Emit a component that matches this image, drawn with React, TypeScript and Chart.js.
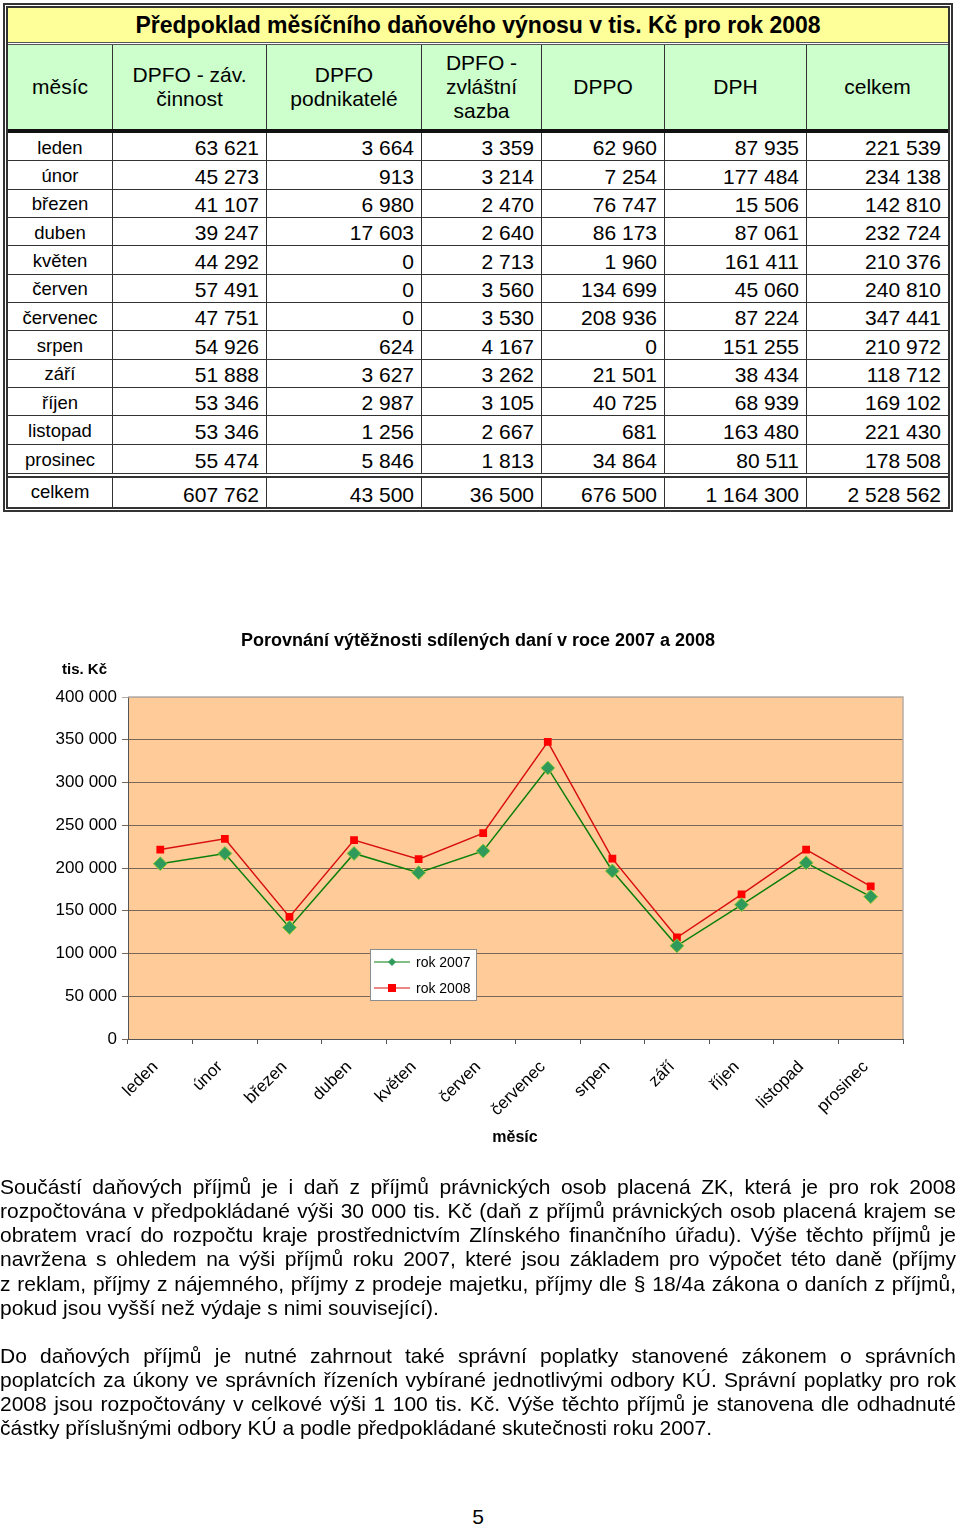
import React, { useEffect, useRef } from "react";
import { Chart, registerables } from "chart.js";

Chart.register(...registerables);

const FONT = "'Liberation Sans', Arial, Helvetica, sans-serif";

// ---------- table data ----------
const tableTitle = "Předpoklad měsíčního daňového výnosu v tis. Kč pro rok 2008";
const headerLabels = [
  ["měsíc"],
  ["DPFO - záv.", "činnost"],
  ["DPFO", "podnikatelé"],
  ["DPFO -", "zvláštní", "sazba"],
  ["DPPO"],
  ["DPH"],
  ["celkem"],
];
const months = ["leden", "únor", "březen", "duben", "květen", "červen", "červenec", "srpen", "září", "říjen", "listopad", "prosinec"];
const dpfoZavislaCinnost = [63621, 45273, 41107, 39247, 44292, 57491, 47751, 54926, 51888, 53346, 53346, 55474];
const dpfoPodnikatele = [3664, 913, 6980, 17603, 0, 0, 0, 624, 3627, 2987, 1256, 5846];
const dpfoZvlastniSazba = [3359, 3214, 2470, 2640, 2713, 3560, 3530, 4167, 3262, 3105, 2667, 1813];
const dppo = [62960, 7254, 76747, 86173, 1960, 134699, 208936, 0, 21501, 40725, 681, 34864];
const dph = [87935, 177484, 15506, 87061, 161411, 45060, 87224, 151255, 38434, 68939, 163480, 80511];
const celkem = [221539, 234138, 142810, 232724, 210376, 240810, 347441, 210972, 118712, 169102, 221430, 178508];
const totalLabel = "celkem";
const totals = [607762, 43500, 36500, 676500, 1164300, 2528562];

// ---------- chart data ----------
const chartTitle = "Porovnání výtěžnosti sdílených daní v roce 2007 a 2008";
const yAxisUnit = "tis. Kč";
const xAxisTitle = "měsíc";
const seriesNames = ["rok 2007", "rok 2008"];
const rok2007 = [205000, 217000, 130500, 217000, 194500, 220000, 317000, 196500, 109000, 157000, 206000, 166500];
const rok2008 = [221539, 234138, 142810, 232724, 210376, 240810, 347441, 210972, 118712, 169102, 221430, 178508];
const yMin = 0;
const yMax = 400000;
const yStep = 50000;

// ---------- text ----------
const paragraph1 = [
  "Součástí daňových příjmů je i daň z\u00a0příjmů právnických osob placená ZK, která je pro rok 2008",
  "rozpočtována v předpokládané výši 30 000 tis. Kč (daň z příjmů právnických osob placená krajem se",
  "obratem vrací do rozpočtu kraje prostřednictvím Zlínského finančního úřadu). Výše těchto příjmů je",
  "navržena s\u00a0ohledem na výši příjmů roku 2007, které jsou základem pro výpočet této daně (příjmy",
  "z reklam, příjmy z nájemného, příjmy z prodeje majetku, příjmy dle § 18/4a zákona o daních z příjmů,",
  "pokud jsou vyšší než výdaje s nimi související).",
];
const paragraph2 = [
  "Do daňových příjmů je nutné zahrnout také správní poplatky stanovené zákonem o správních",
  "poplatcích za úkony ve správních řízeních vybírané jednotlivými odbory KÚ. Správní poplatky pro rok",
  "2008 jsou rozpočtovány v celkové výši 1 100 tis. Kč. Výše těchto příjmů je stanovena dle odhadnuté",
  "částky příslušnými odbory KÚ a podle předpokládané skutečnosti roku 2007.",
];
const pageNumber = "5";

const fmt = (n: number) => String(n).replace(/\B(?=(\d{3})+(?!\d))/g, " ");

const GREEN_LINE = "#0a7f0a";
const GREEN_FILL = "#2f9a5a";
const GREEN_EDGE = "#9ccc3a";
const RED_LINE = "#d81010";
const RED_FILL = "#ff0000";

const decorPlugin = {
  id: "decor",
  beforeDraw(chart: any) {
    const { ctx, chartArea: a } = chart;
    ctx.save();
    ctx.fillStyle = "#ffcc99";
    ctx.fillRect(a.left, a.top, a.right - a.left, a.bottom - a.top);
    ctx.restore();
  },
  afterDraw(chart: any) {
    const { ctx, chartArea: a } = chart;
    ctx.save();
    // top + right frame of plot area
    ctx.strokeStyle = "#b7aca2";
    ctx.lineWidth = 1.5;
    ctx.beginPath();
    ctx.moveTo(a.left, a.top);
    ctx.lineTo(a.right, a.top);
    ctx.lineTo(a.right, a.bottom);
    ctx.stroke();

    // titles
    ctx.fillStyle = "#000";
    ctx.textBaseline = "middle";
    ctx.textAlign = "center";
    ctx.font = `bold 18px ${FONT}`;
    ctx.fillText(chartTitle, 478, 41);
    ctx.textAlign = "left";
    ctx.font = `bold 15px ${FONT}`;
    ctx.fillText(yAxisUnit, 62, 70);
    ctx.textAlign = "center";
    ctx.font = `bold 16px ${FONT}`;
    ctx.fillText(xAxisTitle, 515, 538);

    // legend
    const lx = 370, ly = 349, lw = 106, lh = 51;
    ctx.fillStyle = "#ffffff";
    ctx.fillRect(lx, ly, lw, lh);
    ctx.strokeStyle = "#8c8c8c";
    ctx.lineWidth = 1;
    ctx.strokeRect(lx + 0.5, ly + 0.5, lw, lh);
    const rows = [ly + 13, ly + 39];
    // 2007
    ctx.strokeStyle = GREEN_LINE;
    ctx.lineWidth = 1.2;
    ctx.beginPath();
    ctx.moveTo(lx + 4, rows[0]);
    ctx.lineTo(lx + 40, rows[0]);
    ctx.stroke();
    ctx.fillStyle = GREEN_FILL;
    ctx.beginPath();
    const cx = lx + 22;
    ctx.moveTo(cx, rows[0] - 4);
    ctx.lineTo(cx + 4, rows[0]);
    ctx.lineTo(cx, rows[0] + 4);
    ctx.lineTo(cx - 4, rows[0]);
    ctx.closePath();
    ctx.fill();
    // 2008
    ctx.strokeStyle = RED_LINE;
    ctx.beginPath();
    ctx.moveTo(lx + 4, rows[1]);
    ctx.lineTo(lx + 40, rows[1]);
    ctx.stroke();
    ctx.fillStyle = RED_FILL;
    ctx.fillRect(cx - 4, rows[1] - 4, 8, 8);
    ctx.fillStyle = "#000";
    ctx.textAlign = "left";
    ctx.font = `14px ${FONT}`;
    ctx.fillText(seriesNames[0], lx + 46, rows[0] + 1);
    ctx.fillText(seriesNames[1], lx + 46, rows[1] + 1);
    ctx.restore();
  },
};

const cellBorder = "1px solid #333";
const colEdges = [8, 113, 267, 422, 542, 665, 807, 948];
const dataTop = 133;
const rowH = 340 / 12;

function Cell(props: { x0: number; x1: number; y0: number; y1: number; style?: any; children?: any; last?: boolean; noBottom?: boolean }) {
  const { x0, x1, y0, y1, style, children, last, noBottom } = props;
  return (
    <div
      style={{
        position: "absolute",
        left: x0,
        top: y0,
        width: x1 - x0,
        height: y1 - y0,
        boxSizing: "border-box",
        borderRight: last ? "none" : cellBorder,
        borderBottom: noBottom ? "none" : cellBorder,
        display: "flex",
        ...style,
      }}
    >
      {children}
    </div>
  );
}

export default function App() {
  const canvasRef = useRef<HTMLCanvasElement>(null);

  useEffect(() => {
    const canvas = canvasRef.current;
    if (!canvas) return;
    Chart.defaults.font.family = FONT;
    const chart = new Chart(canvas, {
      type: "line",
      data: {
        labels: months,
        datasets: [
          {
            label: seriesNames[0],
            data: rok2007,
            borderColor: GREEN_LINE,
            borderWidth: 1.5,
            backgroundColor: GREEN_FILL,
            pointStyle: "rectRot",
            pointRadius: 7,
            pointBackgroundColor: GREEN_FILL,
            pointBorderColor: GREEN_EDGE,
            pointBorderWidth: 1,
            tension: 0,
            fill: false,
          },
          {
            label: seriesNames[1],
            data: rok2008,
            borderColor: RED_LINE,
            borderWidth: 1.5,
            backgroundColor: RED_FILL,
            pointStyle: "rect",
            pointRadius: 5.5,
            pointBackgroundColor: RED_FILL,
            pointBorderColor: RED_FILL,
            pointBorderWidth: 0,
            tension: 0,
            fill: false,
          },
        ],
      },
      options: {
        responsive: false,
        animation: false,
        devicePixelRatio: 1,
        layout: { padding: { left: 0, top: 97, right: 57, bottom: 0 } },
        plugins: {
          legend: { display: false },
          title: { display: false },
          tooltip: { enabled: false },
        },
        scales: {
          x: {
            type: "category",
            offset: true,
            grid: {
              offset: true,
              drawOnChartArea: false,
              drawTicks: true,
              tickLength: 5,
              color: "#555",
            },
            border: { display: true, color: "#555", width: 1 },
            ticks: {
              autoSkip: false,
              minRotation: 45,
              maxRotation: 45,
              padding: 13,
              labelOffset: -5,
              color: "#000",
              font: { size: 17, family: FONT },
            },
            afterFit: (s: any) => {
              s.height = 141;
            },
          },
          y: {
            min: yMin,
            max: yMax,
            grid: {
              color: (c: any) => (c.tick && c.tick.value === yMax ? "#b7aca2" : "#7a6656"),
              tickLength: 6,
              drawTicks: true,
            },
            border: { display: true, color: "#555", width: 1 },
            ticks: {
              stepSize: yStep,
              padding: 5,
              color: "#000",
              font: { size: 17, family: FONT },
              callback: (v: any) => fmt(Number(v)),
            },
            afterFit: (s: any) => {
              s.width = 128;
            },
          },
        },
      },
      plugins: [decorPlugin],
    } as any);
    return () => chart.destroy();
  }, []);

  const numCols = [dpfoZavislaCinnost, dpfoPodnikatele, dpfoZvlastniSazba, dppo, dph, celkem];

  const cells: any[] = [];
  // header
  headerLabels.forEach((lines, c) => {
    cells.push(
      <Cell key={"h" + c} x0={colEdges[c]} x1={colEdges[c + 1]} y0={45} y1={129} last={c === 6} noBottom
        style={{ background: "#ccffcc", alignItems: "center", justifyContent: "center", flexDirection: "column", fontSize: 21, lineHeight: "24px", textAlign: "center" }}>
        {lines.map((l, i) => (
          <div key={i}>{l}</div>
        ))}
      </Cell>
    );
  });
  // data rows
  months.forEach((m, r) => {
    const y0 = dataTop + r * rowH;
    const y1 = dataTop + (r + 1) * rowH;
    cells.push(
      <Cell key={"m" + r} x0={colEdges[0]} x1={colEdges[1]} y0={y0} y1={y1} noBottom={r === 11}
        style={{ alignItems: "center", justifyContent: "center", fontSize: 18.5, lineHeight: "20px", paddingTop: 2 }}>
        {m}
      </Cell>
    );
    numCols.forEach((col, c) => {
      cells.push(
        <Cell key={"d" + r + "_" + c} x0={colEdges[c + 1]} x1={colEdges[c + 2]} y0={y0} y1={y1} last={c === 5} noBottom={r === 11}
          style={{ alignItems: "flex-end", justifyContent: "flex-end", fontSize: 21, lineHeight: "20px", paddingRight: 7, paddingBottom: 2 }}>
          {fmt(col[r])}
        </Cell>
      );
    });
  });
  // totals row
  cells.push(
    <Cell key="tl" x0={colEdges[0]} x1={colEdges[1]} y0={478} y1={507} noBottom
      style={{ alignItems: "center", justifyContent: "center", fontSize: 18.5, lineHeight: "20px", paddingBottom: 2 }}>
      {totalLabel}
    </Cell>
  );
  totals.forEach((t, c) => {
    cells.push(
      <Cell key={"t" + c} x0={colEdges[c + 1]} x1={colEdges[c + 2]} y0={478} y1={507} last={c === 5} noBottom
        style={{ alignItems: "flex-end", justifyContent: "flex-end", fontSize: 21, lineHeight: "20px", paddingRight: 7, paddingBottom: 2 }}>
        {fmt(t)}
      </Cell>
    );
  });

  const lineStyle = (justify: boolean): any => ({
    height: 24.15,
    lineHeight: "24.15px",
    textAlign: justify ? "justify" : "left",
    textAlignLast: justify ? "justify" : "left",
  });

  return (
    <div style={{ position: "relative", width: 960, height: 1528, fontFamily: FONT, color: "#000", background: "#fff", overflow: "hidden" }}>
      <style>{`body{margin:0;background:#fff;}`}</style>
      {/* table frame */}
      <div style={{ position: "absolute", left: 3, top: 3, width: 950, height: 509, border: "5px double #333", boxSizing: "border-box" }} />
      {/* title row */}
      <div style={{ position: "absolute", left: 8, top: 8, width: 940, height: 34, background: "#ffff99", fontWeight: "bold", fontSize: 23, lineHeight: "34px", textAlign: "center" }}>
        {tableTitle}
      </div>
      <div style={{ position: "absolute", left: 8, top: 42, width: 940, height: 3, borderTop: "1px solid #555", borderBottom: "1px solid #555", boxSizing: "border-box" }} />
      {cells}
      {/* thick line under header */}
      <div style={{ position: "absolute", left: 8, top: 129, width: 940, height: 4, background: "#111" }} />
      {/* double line before totals */}
      <div style={{ position: "absolute", left: 8, top: 473, width: 940, height: 5, borderTop: "1px solid #333", borderBottom: "2px solid #333", boxSizing: "border-box", background: "#fff" }} />

      {/* chart */}
      <canvas ref={canvasRef} width={960} height={580} style={{ position: "absolute", left: 0, top: 600, width: 960, height: 580, display: "block" }} />

      {/* text */}
      <div style={{ position: "absolute", left: 0, top: 1175, width: 956, fontSize: 21 }}>
        {paragraph1.map((l, i) => (
          <div key={i} style={lineStyle(i < paragraph1.length - 1)}>{l}</div>
        ))}
        <div style={{ height: 24.15 }} />
        {paragraph2.map((l, i) => (
          <div key={i} style={lineStyle(i < paragraph2.length - 1)}>{l}</div>
        ))}
      </div>
      <div style={{ position: "absolute", left: 0, top: 1505, width: 956, textAlign: "center", fontSize: 21, lineHeight: "24px" }}>{pageNumber}</div>
    </div>
  );
}
